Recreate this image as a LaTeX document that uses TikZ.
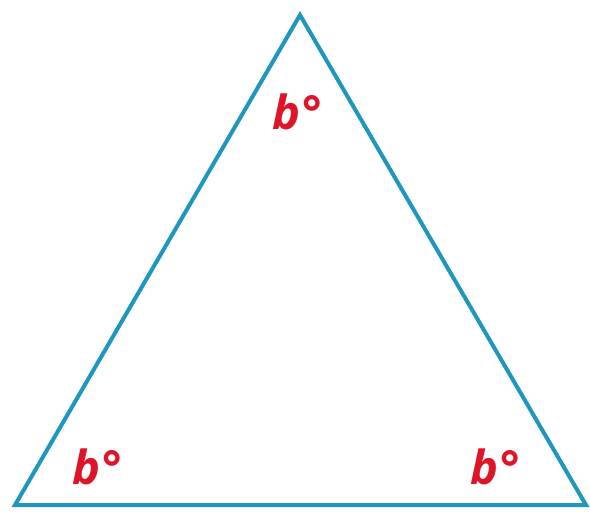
\documentclass[tikz,border=0pt]{standalone}
\usepackage{fontspec}
\setmainfont{Open Sans}
\definecolor{triblue}{RGB}{30,150,190}
\definecolor{angred}{RGB}{222,20,40}
\tikzset{
  side/.style={draw=triblue, line width=4pt, line join=miter},
  anglabel/.style={text=angred, font=\fontsize{47}{50}\selectfont\bfseries\itshape, inner sep=0pt}
}
\begin{document}
\begin{tikzpicture}[x=1pt, y=-1pt]
  \useasboundingbox (0,0) rectangle (590,512);

  % --- Vertices ---
  \coordinate (top)   at (300,15);
  \coordinate (left)  at (15,505);
  \coordinate (right) at (586,505);

  % --- Triangle ---
  \draw[side] (top) -- (right) -- (left) -- cycle;

  % --- Angle labels ---
  \node[anglabel] (atop)   at (297,112) {b°};
  \node[anglabel] (aleft)  at (97,467)  {b°};
  \node[anglabel] (aright) at (495,467) {b°};

\end{tikzpicture}
\end{document}
